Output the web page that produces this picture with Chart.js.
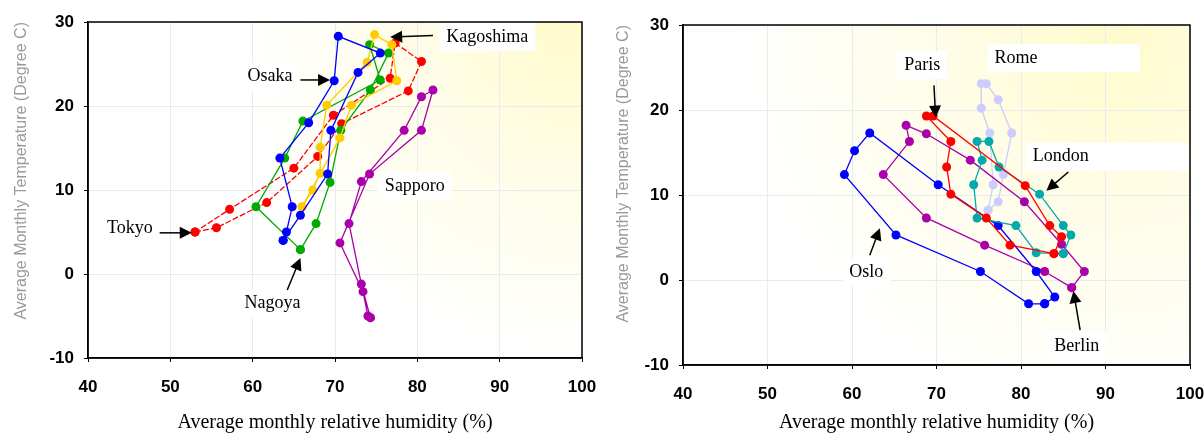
<!DOCTYPE html>
<html>
<head>
<meta charset="utf-8">
<script src="https://cdn.jsdelivr.net/npm/chart.js@4.4.0/dist/chart.umd.min.js"></script>
<style>
  html, body { margin: 0; padding: 0; background: #fff; }
  #wrap { position: relative; width: 1204px; height: 439px; overflow: hidden; }
  canvas { position: absolute; top: 0; }
</style>
</head>
<body>
<div id="wrap">
  <canvas id="japan" width="602" height="439" style="left:0"></canvas>
  <canvas id="europe" width="602" height="439" style="left:602px"></canvas>
</div>
<script>
// monthly relative humidity (%) and temperature (C)
const tokyoHum  = [53.0, 55.6, 61.7, 67.9, 70.8, 78.9, 80.5, 77.3, 76.7, 69.8, 65.0, 57.2];
const tokyoTemp = [5.0, 5.5, 8.5, 14.0, 17.9, 21.8, 25.3, 27.5, 23.3, 18.9, 12.6, 7.7];
const osakaHum  = [63.7, 64.1, 64.8, 63.3, 66.8, 69.9, 70.4, 75.5, 72.8, 69.5, 69.1, 65.8];
const osakaTemp = [4.0, 5.0, 8.0, 13.8, 18.0, 23.0, 28.3, 26.3, 24.0, 17.1, 11.9, 7.0];
const kagoHum   = [66.0, 67.3, 68.2, 68.2, 69.0, 73.9, 74.8, 76.9, 77.5, 72.0, 70.6];
const kagoTemp  = [8.0, 10.0, 12.0, 15.1, 20.1, 25.2, 28.5, 27.3, 23.0, 20.1, 16.2];
const nagoyaHum  = [65.8, 67.7, 69.4, 70.7, 74.3, 76.5, 74.2, 75.5, 66.1, 63.9, 60.4];
const nagoyaTemp = [2.9, 6.0, 10.9, 17.1, 21.9, 26.3, 27.3, 23.1, 18.2, 13.8, 8.0];
const sapporoHum  = [74.3, 73.2, 71.7, 73.2, 78.4, 80.5, 81.9, 80.5, 74.2, 70.6, 73.4, 74.0];
const sapporoTemp = [-5.2, -1.2, 6.0, 11.0, 17.1, 21.1, 21.9, 17.1, 11.9, 3.7, -2.1, -5.0];

const osloHum   = [82.8, 84.0, 81.8, 77.3, 70.2, 62.1, 60.3, 59.1, 65.2, 75.2, 80.9];
const osloTemp  = [-2.8, -2.0, 1.0, 6.4, 11.2, 17.3, 15.2, 12.4, 5.3, 1.0, -2.8];
const berlinHum  = [86.0, 82.8, 75.7, 68.8, 63.7, 66.8, 66.4, 68.8, 74.0, 80.4, 84.8, 87.5];
const berlinTemp = [-0.9, 1.0, 4.1, 7.3, 12.4, 16.3, 18.2, 17.2, 14.1, 9.2, 4.2, 1.0];
const parisHum  = [83.9, 78.7, 75.9, 71.7, 71.2, 71.7, 68.8, 69.6, 80.5, 83.4, 84.8];
const parisTemp = [3.1, 4.1, 7.3, 10.1, 13.3, 16.3, 19.3, 19.3, 11.1, 6.4, 5.1];
const londonHum  = [85.0, 81.8, 79.4, 74.8, 74.4, 75.4, 74.8, 76.2, 77.4, 82.2, 85.0, 85.9];
const londonTemp = [3.1, 3.2, 6.4, 7.3, 11.2, 14.1, 16.3, 16.3, 13.3, 10.1, 6.4, 5.3];
const romeHum  = [76.1, 76.7, 76.3, 75.3, 75.3, 75.9, 77.3, 78.9, 77.9, 77.3];
const romeTemp = [8.2, 11.2, 17.3, 20.2, 23.1, 23.1, 21.2, 17.3, 12.4, 9.2];

const xTicks = [40, 50, 60, 70, 80, 90, 100];
const yTicks = [-10, 0, 10, 20, 30];

// city name labels (data coords) with optional arrow [fromX, fromY, toX, toY]
const japanLabels = [
  { text: "Kagoshima", x: 88.5, y: 28.2, arrow: [81.9, 28.4, 76.7, 28.2] },
  { text: "Osaka", x: 62.1, y: 23.5, arrow: [65.8, 23.1, 69.4, 23.1] },
  { text: "Sapporo", x: 79.7, y: 10.5 },
  { text: "Tokyo", x: 45.1, y: 5.5, arrow: [48.7, 4.9, 52.6, 4.9] },
  { text: "Nagoya", x: 62.4, y: -3.5, arrow: [64.2, -1.9, 65.8, 1.9] }
];
const europeLabels = [
  { text: "Paris", x: 68.3, y: 25.3, arrow: [69.7, 22.9, 69.9, 19.1] },
  { text: "Rome", x: 79.4, y: 26.1, boxRight: 1140 },
  { text: "London", x: 84.7, y: 14.5, arrow: [85.6, 12.7, 83.0, 10.5], boxRight: 1190 },
  { text: "Oslo", x: 61.7, y: 0.9, arrow: [62.1, 2.9, 63.3, 6.1] },
  { text: "Berlin", x: 86.6, y: -7.8, arrow: [87.0, -5.9, 86.2, -1.3] }
];

function toPoints(hum, temp) {
  const pts = hum.map((h, i) => ({ x: h, y: temp[i] }));
  pts.push(pts[0]);
  return pts;
}

function series(label, hum, temp, color, dash) {
  return {
    label: label,
    data: toPoints(hum, temp),
    showLine: true,
    borderColor: color,
    backgroundColor: color,
    borderWidth: 1.3,
    borderDash: dash || [],
    pointRadius: 4.5,
    pointHoverRadius: 4.5,
    pointBorderWidth: 0
  };
}

const backdrop = {
  id: "backdrop",
  beforeDraw(chart, args, opts) {
    const { ctx, chartArea: a } = chart;
    ctx.save();
    ctx.fillStyle = "#fff";
    ctx.fillRect(0, 0, chart.width, chart.height);
    const g = ctx.createRadialGradient(a.left + opts.cx * a.width, a.top + opts.cy * a.height, 0,
      a.left + opts.cx * a.width, a.top + opts.cy * a.height, opts.r);
    g.addColorStop(0, "#fffbcc");
    g.addColorStop(0.45, "#fffde8");
    g.addColorStop(1, "rgba(255,255,255,1)");
    ctx.fillStyle = g;
    ctx.fillRect(a.left, a.top, a.width, a.height);
    ctx.restore();
  },
  afterDraw(chart) {
    const { ctx, chartArea: a } = chart;
    ctx.save();
    ctx.strokeStyle = "#000";
    ctx.lineWidth = 1.5;
    ctx.strokeRect(a.left, a.top, a.width, a.height);
    ctx.restore();
  }
};

const cityLabels = {
  id: "cityLabels",
  afterDatasetsDraw(chart, args, opts) {
    const { ctx } = chart;
    const x = chart.scales.x, y = chart.scales.y;
    const offset = opts.offset || 0;
    ctx.save();
    ctx.font = "18px 'Liberation Serif', 'Times New Roman', serif";
    ctx.textAlign = "center";
    ctx.textBaseline = "middle";
    opts.items.forEach(item => {
      const px = x.getPixelForValue(item.x), py = y.getPixelForValue(item.y);
      const w = ctx.measureText(item.text).width;
      let right = px + w / 2 + 7;
      if (item.boxRight) right = Math.min(item.boxRight - offset, chart.chartArea.right - 2);
      ctx.fillStyle = "#fff";
      ctx.fillRect(px - w / 2 - 7, py - 14, right - (px - w / 2 - 7), 28);
      ctx.fillStyle = "#000";
      ctx.fillText(item.text, px, py);
      if (item.arrow) {
        const [ax, ay, bx, by] = item.arrow;
        const x1 = x.getPixelForValue(ax), y1 = y.getPixelForValue(ay);
        const x2 = x.getPixelForValue(bx), y2 = y.getPixelForValue(by);
        const ang = Math.atan2(y2 - y1, x2 - x1);
        ctx.strokeStyle = "#000";
        ctx.lineWidth = 1.5;
        ctx.beginPath();
        ctx.moveTo(x1, y1);
        ctx.lineTo(x2 - 8 * Math.cos(ang), y2 - 8 * Math.sin(ang));
        ctx.stroke();
        ctx.beginPath();
        ctx.moveTo(x2, y2);
        ctx.lineTo(x2 - 12 * Math.cos(ang) + 6 * Math.sin(ang), y2 - 12 * Math.sin(ang) - 6 * Math.cos(ang));
        ctx.lineTo(x2 - 12 * Math.cos(ang) - 6 * Math.sin(ang), y2 - 12 * Math.sin(ang) + 6 * Math.cos(ang));
        ctx.closePath();
        ctx.fill();
      }
    });
    ctx.restore();
  }
};

function makeOptions(yWidth, xHeight, pad, grad, labels, offset) {
  const tickFont = { family: "'Liberation Sans', Arial, sans-serif", weight: "bold", size: 17 };
  return {
    responsive: false,
    animation: false,
    layout: { padding: pad },
    plugins: {
      legend: { display: false },
      tooltip: { enabled: false },
      backdrop: grad,
      cityLabels: { items: labels, offset: offset }
    },
    scales: {
      x: {
        type: "linear", min: 40, max: 100,
        afterBuildTicks: s => { s.ticks = xTicks.map(v => ({ value: v })); },
        afterFit: s => { s.height = xHeight; s.paddingRight = 0; s.paddingLeft = 0; },
        ticks: { color: "#000", font: tickFont, padding: 15 },
        grid: { color: "#e6ecef", tickColor: "#000", tickLength: 4 },
        border: { color: "#000", width: 1.5 },
        title: {
          display: true, text: "Average monthly relative humidity (%)", color: "#000",
          font: { family: "'Liberation Serif', 'Times New Roman', serif", size: 20 },
          padding: { top: 4, bottom: 4 }
        }
      },
      y: {
        type: "linear", min: -10, max: 30,
        afterBuildTicks: s => { s.ticks = yTicks.map(v => ({ value: v })); },
        afterFit: s => { s.width = yWidth; s.paddingTop = 0; s.paddingBottom = 0; },
        ticks: { color: "#000", font: tickFont, padding: 10 },
        grid: { color: "#e6ecef", tickColor: "#000", tickLength: 4 },
        border: { color: "#000", width: 1.5 },
        title: {
          display: true, text: "Average Monthly Temperature (Degree C)", color: "#9a9a9a",
          align: "end",
          font: { family: "'Liberation Sans', Arial, sans-serif", size: 16 },
          padding: { top: 12, bottom: 4 }
        }
      }
    }
  };
}

new Chart(document.getElementById("japan"), {
  type: "scatter",
  data: {
    datasets: [
      series("Osaka", osakaHum, osakaTemp, "#0000ff"),
      series("Kagoshima", kagoHum, kagoTemp, "#ffcc00"),
      series("Nagoya", nagoyaHum, nagoyaTemp, "#00aa00"),
      series("Tokyo", tokyoHum, tokyoTemp, "#ff0000", [6, 2]),
      series("Sapporo", sapporoHum, sapporoTemp, "#aa00aa")
    ]
  },
  options: makeOptions(88, 81, { top: 22, right: 20, left: 0, bottom: 0 },
    { cx: 0.97, cy: 0.02, r: 330 }, japanLabels, 0),
  plugins: [backdrop, cityLabels]
});

new Chart(document.getElementById("europe"), {
  type: "scatter",
  data: {
    datasets: [
      series("Paris", parisHum, parisTemp, "#ff0000"),
      series("London", londonHum, londonTemp, "#00aaaa"),
      series("Oslo", osloHum, osloTemp, "#0000ff"),
      series("Berlin", berlinHum, berlinTemp, "#aa00aa"),
      series("Rome", romeHum, romeTemp, "#ccccff")
    ]
  },
  options: makeOptions(81, 74, { top: 25, right: 14, left: 0, bottom: 0 },
    { cx: 0.85, cy: 0.05, r: 380 }, europeLabels, 602),
  plugins: [backdrop, cityLabels]
});
</script>
</body>
</html>
